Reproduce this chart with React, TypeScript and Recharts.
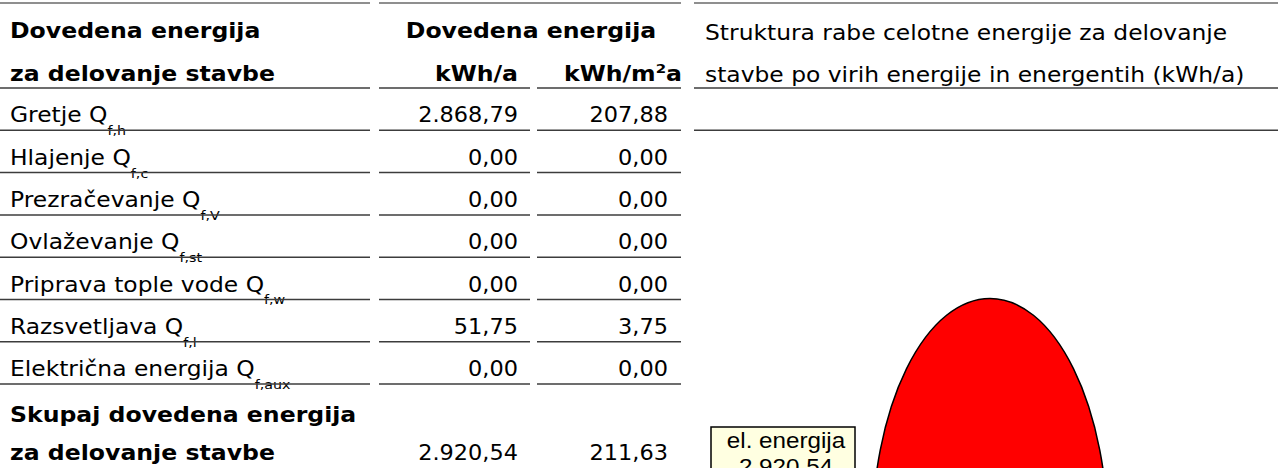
import React from 'react';
import { PieChart, Pie, Cell } from 'recharts';

// ---------- data ----------
const headerLeft = ['Dovedena energija', 'za delovanje stavbe'];
const headerValues = 'Dovedena energija';
const unitYear = 'kWh/a';
const unitAreaPre = 'kWh/m';
const unitAreaSup = '2';
const unitAreaPost = 'a';
const chartTitle = ['Struktura rabe celotne energije za delovanje', 'stavbe po virih energije in energentih (kWh/a)'];

const rowLabels = [
  'Gretje Q',
  'Hlajenje Q',
  'Prezračevanje Q',
  'Ovlaževanje Q',
  'Priprava tople vode Q',
  'Razsvetljava Q',
  'Električna energija Q',
];
const rowSubscripts = ['f,h', 'f,c', 'f,V', 'f,st', 'f,w', 'f,l', 'f,aux'];
const energyPerYear = [2868.79, 0, 0, 0, 0, 51.75, 0];
const energyPerArea = [207.88, 0, 0, 0, 0, 3.75, 0];
const totalLabel = ['Skupaj dovedena energija', 'za delovanje stavbe'];
const totalPerYear = 2920.54;
const totalPerArea = 211.63;

const pieNames = ['el. energija'];
const pieValues = [2920.54];
const pieColors = ['#FF0000'];

const pieData = pieNames.map((name, i) => ({ name, value: pieValues[i] }));

// ---------- helpers ----------
function fmt(v: number): string {
  const [i, d] = v.toFixed(2).split('.');
  return i.replace(/\B(?=(\d{3})+(?!\d))/g, '.') + ',' + d;
}

const FONT = "'DejaVu Sans', Verdana, sans-serif";
const FS = 20.5;
const SX_N = 1.17 * 20 / FS;
const SX_B = 1.18 * 20 / FS;
const SX_D = 1.12 * 20 / FS;
const ASPECT = 2.03;

function T(props: any) {
  const { x, y, sx, anchor = 'start', bold = false, size = FS, children } = props;
  return (
    <g transform={`translate(${x},${y}) scale(${sx},1)`}>
      <text
        x={0}
        y={0}
        textAnchor={anchor}
        fontFamily={FONT}
        fontSize={size}
        fontWeight={bold ? 'bold' : 'normal'}
        fill="#000"
      >
        {children}
      </text>
    </g>
  );
}

function Seg(props: any) {
  const { x1, x2, y, color = '#3c3c3c' } = props;
  return <line x1={x1} x2={x2} y1={y} y2={y} stroke={color} strokeWidth={1.5} />;
}

const COL_A: [number, number] = [0, 370];
const COL_B: [number, number] = [379, 530];
const COL_C: [number, number] = [537, 681];
const COL_D: [number, number] = [694, 1278];
const HEADER_LINE = 88;
const ROW_H = 42.3;

function EllipseSector(props: any) {
  const { cx, cy, outerRadius, startAngle, endAngle, fill } = props;
  const rx = outerRadius;
  const ry = outerRadius * ASPECT;
  const rad = Math.PI / 180;
  const pt = (a: number) => [cx + rx * Math.cos(-a * rad), cy + ry * Math.sin(-a * rad)];
  const span = Math.abs(endAngle - startAngle);
  let d: string;
  if (span >= 359.99) {
    d = `M ${cx} ${cy - ry} A ${rx} ${ry} 0 1 1 ${cx} ${cy + ry} A ${rx} ${ry} 0 1 1 ${cx} ${cy - ry} Z`;
  } else {
    const [x1, y1] = pt(startAngle);
    const [x2, y2] = pt(endAngle);
    const large = span > 180 ? 1 : 0;
    const sweep = startAngle > endAngle ? 1 : 0;
    d = `M ${cx} ${cy} L ${x1} ${y1} A ${rx} ${ry} 0 ${large} ${sweep} ${x2} ${y2} Z`;
  }
  return <path d={d} fill={fill} stroke="#000" strokeWidth={1.5} />;
}

function renderLabel(props: any) {
  const { cx, cy, outerRadius, name, value } = props;
  const w = 144;
  const h = 70;
  const right = cx - outerRadius - 17;
  const x = right - w;
  const y = cy - 111;
  const mid = x + w / 2 + 3;
  return (
    <g>
      <rect x={x} y={y} width={w} height={h} fill="#FFFFE1" stroke="#000" strokeWidth={1.5} />
      <g transform={`translate(${mid},${cy - 90}) scale(1.1,1)`}>
        <text x={0} y={0} textAnchor="middle" fontFamily="'Liberation Sans', Arial, sans-serif" fontSize={22} fill="#000">
          {name}
        </text>
      </g>
      <g transform={`translate(${mid},${cy - 64}) scale(1.1,1)`}>
        <text x={0} y={0} textAnchor="middle" fontFamily="'Liberation Sans', Arial, sans-serif" fontSize={22} fill="#000">
          {fmt(value)}
        </text>
      </g>
    </g>
  );
}

export default function App() {
  const rowLines = rowLabels.map((_, i) => HEADER_LINE + ROW_H * (i + 1));
  return (
    <div style={{ position: 'absolute', left: 0, top: 0, width: 1278, height: 468, overflow: 'hidden', background: '#fff' }}>
      <svg width={1278} height={468} style={{ position: 'absolute', left: 0, top: 0 }}>
        {/* top border */}
        <Seg x1={COL_A[0]} x2={COL_A[1]} y={3} color="#6a6a6a" />
        <Seg x1={COL_B[0]} x2={COL_C[1]} y={3} color="#6a6a6a" />
        <Seg x1={COL_D[0]} x2={COL_D[1]} y={3} color="#6a6a6a" />

        {/* header */}
        <T x={10} y={38} sx={SX_B} bold>{headerLeft[0]}</T>
        <T x={10} y={81} sx={SX_B} bold>{headerLeft[1]}</T>
        <T x={531} y={38} sx={SX_B} bold anchor="middle">{headerValues}</T>
        <T x={518} y={81} sx={SX_B} bold anchor="end">{unitYear}</T>
        <g transform={`translate(682,81) scale(${SX_B},1)`}>
          <text x={0} y={0} textAnchor="end" fontFamily={FONT} fontSize={FS} fontWeight="bold" fill="#000">
            {unitAreaPre}
            <tspan fontSize={13} dy={-8}>{unitAreaSup}</tspan>
            <tspan fontSize={FS} dy={8}>{unitAreaPost}</tspan>
          </text>
        </g>
        <T x={705} y={40} sx={SX_N}>{chartTitle[0]}</T>
        <T x={705} y={82} sx={SX_N}>{chartTitle[1]}</T>

        <Seg x1={COL_A[0]} x2={COL_A[1]} y={HEADER_LINE} />
        <Seg x1={COL_B[0]} x2={COL_B[1]} y={HEADER_LINE} />
        <Seg x1={COL_C[0]} x2={COL_C[1]} y={HEADER_LINE} />
        <Seg x1={COL_D[0]} x2={COL_D[1]} y={HEADER_LINE} />
        <Seg x1={COL_D[0]} x2={COL_D[1]} y={rowLines[0]} />

        {/* rows */}
        {rowLabels.map((label, i) => {
          const ly = rowLines[i];
          const by = ly - 8;
          return (
            <g key={label}>
              <g transform={`translate(10,${by}) scale(${SX_N},1)`}>
                <text x={0} y={0} fontFamily={FONT} fontSize={FS} fill="#000">
                  {label}
                  <tspan fontSize={12.5} dy={13}>{rowSubscripts[i]}</tspan>
                </text>
              </g>
              <T x={518} y={by} sx={SX_D} anchor="end">{fmt(energyPerYear[i])}</T>
              <T x={668} y={by} sx={SX_D} anchor="end">{fmt(energyPerArea[i])}</T>
              <Seg x1={COL_A[0]} x2={COL_A[1]} y={ly} />
              <Seg x1={COL_B[0]} x2={COL_B[1]} y={ly} />
              <Seg x1={COL_C[0]} x2={COL_C[1]} y={ly} />
            </g>
          );
        })}

        {/* total */}
        <T x={10} y={422} sx={SX_B} bold>{totalLabel[0]}</T>
        <T x={10} y={460} sx={SX_B} bold>{totalLabel[1]}</T>
        <T x={518} y={460} sx={SX_D} anchor="end">{fmt(totalPerYear)}</T>
        <T x={668} y={460} sx={SX_D} anchor="end">{fmt(totalPerArea)}</T>
      </svg>

      <div style={{ position: 'absolute', left: 690, top: 0 }}>
        <PieChart width={600} height={800} margin={{ top: 0, right: 0, bottom: 0, left: 0 }}>
          <Pie
            data={pieData}
            dataKey="value"
            nameKey="name"
            cx={300}
            cy={538}
            outerRadius={118}
            startAngle={90}
            endAngle={-270}
            isAnimationActive={false}
            labelLine={false}
            label={renderLabel}
            stroke="#000"
            shape={EllipseSector}
            activeShape={EllipseSector}
            inactiveShape={EllipseSector}
          >
            {pieData.map((d, i) => (
              <Cell key={d.name} fill={pieColors[i]} />
            ))}
          </Pie>
        </PieChart>
      </div>
    </div>
  );
}
